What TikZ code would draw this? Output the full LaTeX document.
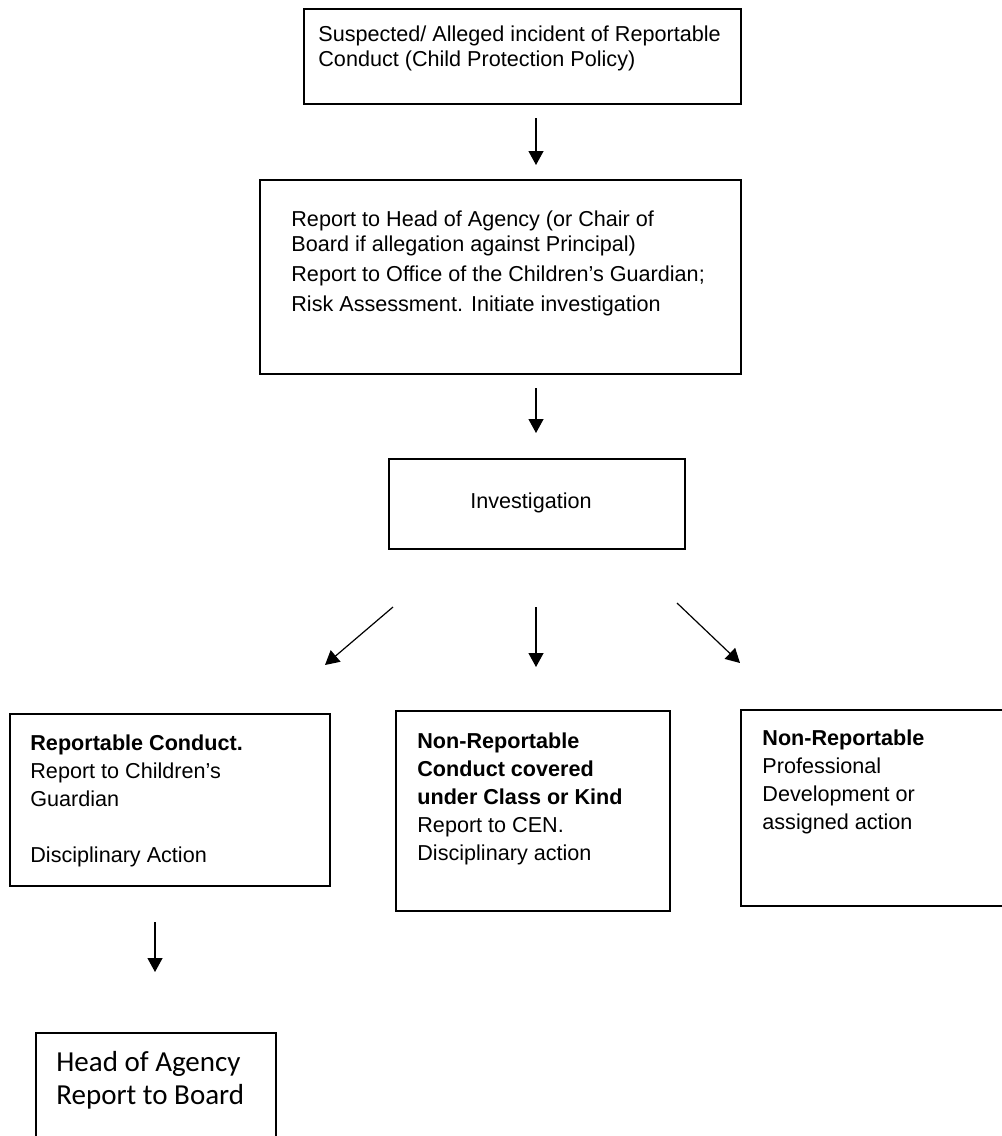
\documentclass[tikz,border=0pt]{standalone}
\usepackage{fontspec}
\setmainfont{Liberation Sans}
\newfontfamily\calibrifont{Carlito}
\usetikzlibrary{arrows.meta}
\begin{document}
\begin{tikzpicture}[x=0.5pt,y=-0.5pt,
  box/.style={draw, line width=1pt, inner sep=0pt, anchor=north west},
  txt/.style={anchor=north west, inner sep=0pt, align=left,
              font=\fontsize{10.8pt}{12.5pt}\selectfont},
  rowtxt/.style={txt, font=\fontsize{10.8pt}{14pt}\selectfont},
  flow/.style={line width=0.6pt, -{Triangle[length=7pt,width=7.5pt]}}]
\useasboundingbox (0,0) rectangle (1002,1136);

% boxes
\node[box, line width=1.2pt, minimum width=218.5pt, minimum height=47.5pt] (b1) at (303,8) {};
\node[box, minimum width=240.5pt, minimum height=97pt]  (b2) at (259,179) {};
\node[box, minimum width=148pt,   minimum height=45pt]  (b3) at (388,458) {};
\node[box, minimum width=160pt,   minimum height=86pt]  (b4) at (9,713) {};
\node[box, minimum width=137pt,   minimum height=100pt] (b5) at (395,710) {};
\node[box, minimum width=136pt,   minimum height=98pt]  (b6) at (740,709) {};
\node[box, minimum width=120pt,   minimum height=59pt]  (b7) at (35,1032) {};

% texts
\node[txt] (t1) at (318,25) {Suspected/ Alleged incident of Reportable\\Conduct (Child Protection Policy)};
\node[txt] (t2) at (291,210) {Report to Head of Agency (or Chair of\\Board if allegation against Principal)\\[2.5pt]
  Report to Office of the Children’s Guardian;\\[2.5pt]
  Risk Assessment. Initiate investigation};
\node[txt, anchor=center] (t3) at (531,503) {Investigation};
\node[rowtxt] (t4) at (30,734) {\textbf{Reportable Conduct.}\\Report to Children’s\\Guardian\\[14pt]Disciplinary Action};
\node[rowtxt] (t5) at (417,732) {\textbf{Non-Reportable}\\\textbf{Conduct covered}\\\textbf{under Class or Kind}\\Report to CEN.\\Disciplinary action};
\node[rowtxt] (t6) at (762,729) {\textbf{Non-Reportable}\\Professional\\Development or\\assigned action};
\node[anchor=north west, inner sep=0pt, align=left,
      font=\calibrifont\fontsize{14.5pt}{16.5pt}\selectfont] (t7) at (56,1051) {Head of Agency\\Report to Board};

% arrow end points
\coordinate (a1s) at (536,118); \coordinate (a1e) at (536,165);
\coordinate (a2s) at (536,388); \coordinate (a2e) at (536,433);
\coordinate (a3s) at (393,607); \coordinate (a3e) at (325,665);
\coordinate (a4s) at (536,607); \coordinate (a4e) at (536,667);
\coordinate (a5s) at (677,603); \coordinate (a5e) at (740,663);
\coordinate (a6s) at (155,922); \coordinate (a6e) at (155,972);

% arrows
\draw[flow] (a1s) -- (a1e);
\draw[flow] (a2s) -- (a2e);
\draw[flow] (a3s) -- (a3e);
\draw[flow] (a4s) -- (a4e);
\draw[flow] (a5s) -- (a5e);
\draw[flow] (a6s) -- (a6e);
\end{tikzpicture}
\end{document}
